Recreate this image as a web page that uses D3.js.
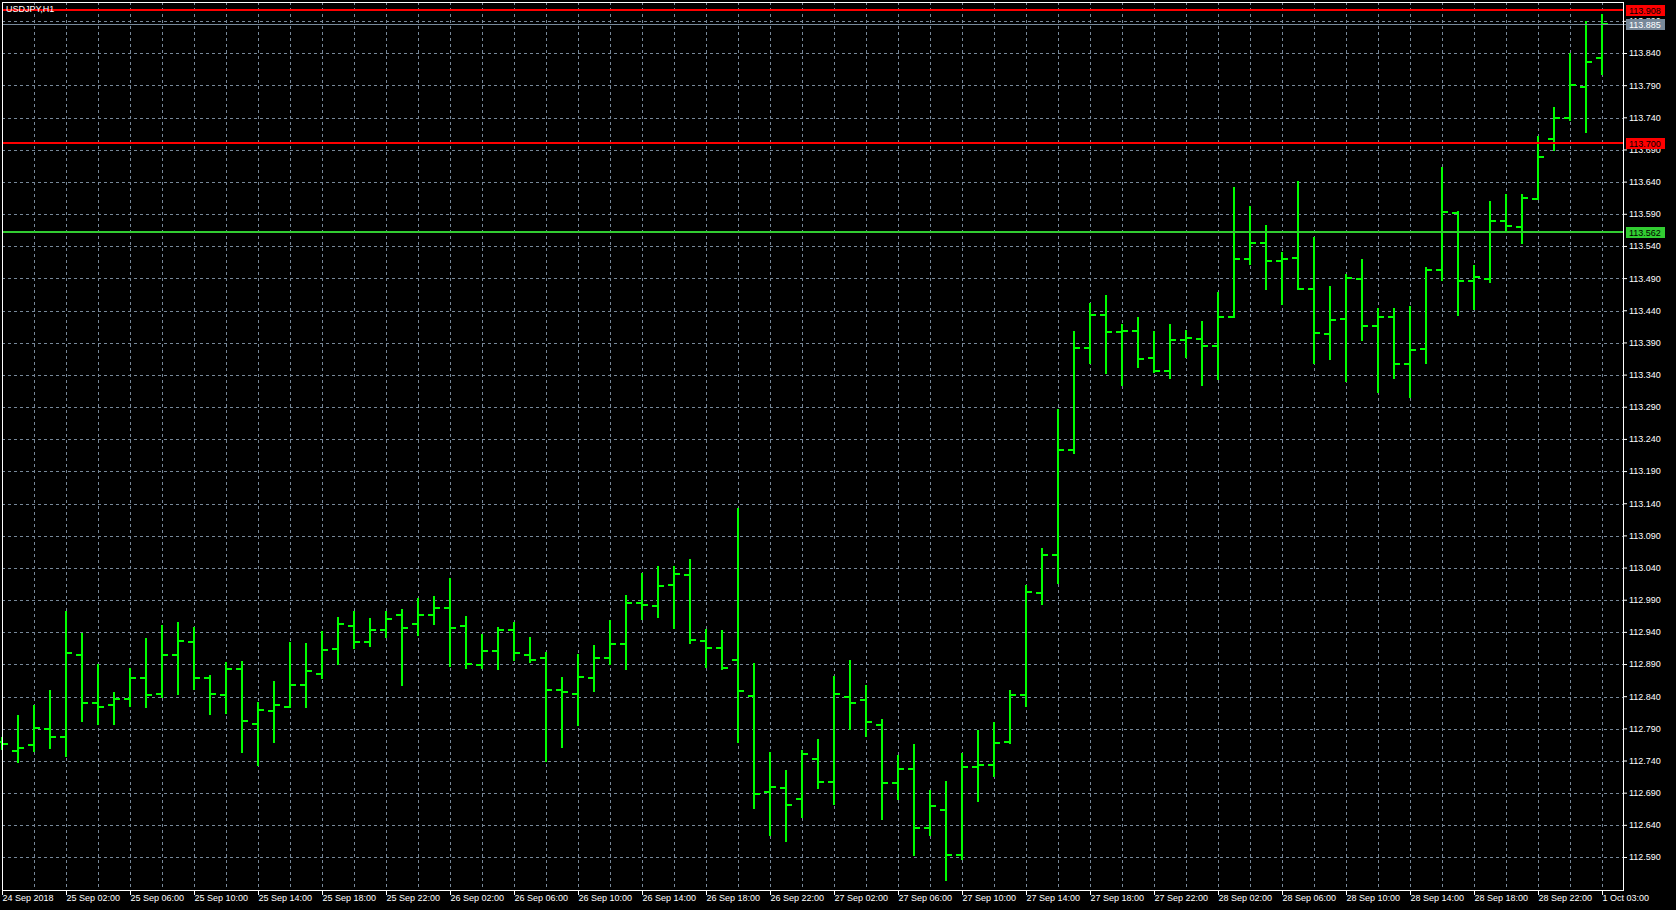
<!DOCTYPE html>
<html>
<head>
<meta charset="utf-8">
<script src="https://cdn.jsdelivr.net/npm/d3@7"></script>
<style>
html,body{margin:0;padding:0;background:#000;overflow:hidden;}
svg text{font-family:"Liberation Sans",Arial,sans-serif;}
</style>
</head>
<body>
<script>
// ---- data (USDJPY, H1), bar index 0 = 24 Sep 2018 22:00 ----
const opens = [112.770,112.755,112.764,112.789,112.777,112.905,112.830,112.827,112.836,112.868,
112.844,112.905,112.925,112.869,112.843,112.883,112.797,112.818,112.824,112.858,
112.875,112.914,112.950,112.924,112.943,112.966,112.952,112.966,112.977,112.949,
112.889,112.911,112.943,112.905,112.900,112.850,112.844,112.869,112.900,112.921,
112.985,112.981,113.014,113.029,112.927,112.916,112.896,112.841,112.692,112.697,
112.681,112.743,112.707,112.840,112.834,112.795,112.706,112.727,112.635,112.663,
112.594,112.731,112.733,112.769,112.842,113.001,113.060,113.223,113.382,113.433,
113.406,113.408,113.366,113.346,113.394,113.396,113.385,113.430,113.520,113.545,
113.517,113.521,113.473,113.403,113.427,113.489,113.416,113.430,113.357,113.380,
113.503,113.591,113.486,113.489,113.580,113.570,113.614,113.707,113.740,113.788,
113.832];
const highs = [112.776,112.809,112.826,112.848,112.972,112.937,112.889,112.845,112.883,112.930,
112.950,112.955,112.947,112.872,112.892,112.894,112.830,112.862,112.923,112.922,
112.941,112.962,112.972,112.961,112.972,112.975,112.992,112.995,113.023,112.964,
112.936,112.947,112.955,112.931,112.908,112.869,112.905,112.919,112.958,112.997,
113.030,113.041,113.041,113.052,112.943,112.942,113.131,112.891,112.752,112.724,
112.755,112.772,112.870,112.895,112.857,112.803,112.747,112.764,112.693,112.707,
112.750,112.786,112.799,112.849,113.012,113.069,113.286,113.406,113.451,113.462,
113.417,113.429,113.407,113.417,113.409,113.423,113.468,113.630,113.601,113.572,
113.530,113.640,113.553,113.477,113.495,113.519,113.443,113.443,113.445,113.506,
113.661,113.594,113.510,113.609,113.619,113.619,113.710,113.755,113.839,113.889,
113.900];
const lows = [112.758,112.738,112.756,112.760,112.747,112.802,112.797,112.797,112.825,112.824,
112.839,112.844,112.852,112.813,112.815,112.753,112.733,112.769,112.823,112.823,
112.868,112.891,112.916,112.919,112.932,112.858,112.936,112.952,112.888,112.885,
112.885,112.883,112.896,112.893,112.740,112.761,112.796,112.849,112.891,112.882,
112.961,112.964,112.947,112.923,112.886,112.883,112.770,112.667,112.625,112.616,
112.653,112.697,112.673,112.790,112.779,112.650,112.681,112.594,112.625,112.554,
112.588,112.678,112.717,112.767,112.826,112.984,113.017,113.218,113.358,113.343,
113.325,113.352,113.344,113.335,113.368,113.324,113.333,113.430,113.512,113.473,
113.451,113.473,113.358,113.364,113.330,113.394,113.313,113.335,113.305,113.358,
113.487,113.433,113.442,113.484,113.564,113.545,113.614,113.689,113.737,113.718,
113.808];
const closes = [112.766,112.760,112.791,112.777,112.907,112.830,112.824,112.836,112.868,112.843,
112.904,112.927,112.869,112.844,112.883,112.802,112.819,112.827,112.858,112.879,
112.913,112.952,112.925,112.943,112.961,112.946,112.966,112.977,112.946,112.891,
112.911,112.944,112.907,112.897,112.850,112.847,112.871,112.900,112.922,112.985,
112.982,113.012,113.031,112.928,112.916,112.885,112.849,112.689,112.700,112.672,
112.751,112.707,112.844,112.830,112.801,112.705,112.727,112.635,112.669,112.593,
112.730,112.734,112.767,112.842,113.002,113.060,113.223,113.382,113.433,113.407,
113.409,113.364,113.346,113.394,113.397,113.385,113.430,113.520,113.545,113.517,
113.520,113.473,113.405,113.425,113.490,113.416,113.430,113.357,113.378,113.503,
113.593,113.486,113.492,113.580,113.571,113.615,113.678,113.740,113.791,113.827,
113.885];

const timeTickIndex = [0,4,8,12,16,20,24,28,32,36,40,44,48,52,56,60,64,68,72,76,80,84,88,92,96,100];
const timeTickLabels = ["24 Sep 2018","25 Sep 02:00","25 Sep 06:00","25 Sep 10:00","25 Sep 14:00",
"25 Sep 18:00","25 Sep 22:00","26 Sep 02:00","26 Sep 06:00","26 Sep 10:00","26 Sep 14:00",
"26 Sep 18:00","26 Sep 22:00","27 Sep 02:00","27 Sep 06:00","27 Sep 10:00","27 Sep 14:00",
"27 Sep 18:00","27 Sep 22:00","28 Sep 02:00","28 Sep 06:00","28 Sep 10:00","28 Sep 14:00",
"28 Sep 18:00","28 Sep 22:00","1 Oct 03:00"];
const priceTicks = [112.590,112.640,112.690,112.740,112.790,112.840,112.890,112.940,112.990,113.040,
113.090,113.140,113.190,113.240,113.290,113.340,113.390,113.440,113.490,113.540,113.590,113.640,
113.690,113.740,113.790,113.840,113.890];
const levelPrices = [113.908, 113.700, 113.562];
const bidPrice = 113.885;
const symbolTitle = "USDJPY,H1";

// ---- layout ----
const W = 1676, H = 910;
const pLeft = 2, pTop = 2, pRight = 1623, pBottom = 890;

const svg = d3.select("body").append("svg").attr("width", W).attr("height", H);
svg.append("rect").attr("width", W).attr("height", H).attr("fill", "#000");

const x = d3.scaleLinear().domain([0, 100]).range([2, 1602]);
const y = d3.scaleLinear().domain([112.590, 113.840]).range([857.3, 53.3]);
const yr = p => Math.round(y(p));

const gridColor = "#778899";
// grid
const grid = svg.append("g");
const vIdx = d3.range(2, 101, 2);
grid.selectAll("line.v").data(vIdx).enter().append("line")
  .attr("x1", d => x(d) + 0.5).attr("x2", d => x(d) + 0.5)
  .attr("y1", pTop).attr("y2", pBottom)
  .attr("stroke", gridColor).attr("stroke-width", 1).attr("stroke-dasharray", "3,3");
grid.selectAll("line.h").data(priceTicks).enter().append("line")
  .attr("x1", pLeft).attr("x2", pRight)
  .attr("y1", d => yr(d) + 0.5).attr("y2", d => yr(d) + 0.5)
  .attr("stroke", gridColor).attr("stroke-width", 1).attr("stroke-dasharray", "3,3");

// bars
const bars = d3.range(opens.length).map(i => ({i, o: opens[i], h: highs[i], l: lows[i], c: closes[i]}));
const bg = svg.append("g").attr("stroke", "#00ff00").attr("stroke-width", 2);
const bar = bg.selectAll("g").data(bars).enter().append("g");
bar.append("line").attr("x1", d => x(d.i)).attr("x2", d => x(d.i))
  .attr("y1", d => yr(d.h) - 1).attr("y2", d => yr(d.l) + 1);
bar.append("line").attr("x1", d => x(d.i) - 6).attr("x2", d => x(d.i))
  .attr("y1", d => yr(d.o)).attr("y2", d => yr(d.o));
bar.append("line").attr("x1", d => x(d.i)).attr("x2", d => x(d.i) + 6)
  .attr("y1", d => yr(d.c)).attr("y2", d => yr(d.c));

// horizontal level lines
const levelColors = ["#ff0000", "#ff0000", "#32cd32"];
svg.append("line").attr("x1", pLeft).attr("x2", pRight + 3)
  .attr("y1", yr(bidPrice) + 0.5).attr("y2", yr(bidPrice) + 0.5)
  .attr("stroke", gridColor).attr("stroke-width", 1);
svg.selectAll("line.level").data(levelPrices).enter().append("line")
  .attr("x1", pLeft).attr("x2", pRight)
  .attr("y1", d => yr(d)).attr("y2", d => yr(d))
  .attr("stroke", (d, i) => levelColors[i]).attr("stroke-width", 2);

// title
svg.append("text").attr("x", 6).attr("y", 11.5).attr("fill", "#fff")
  .attr("font-size", "9px").text(symbolTitle);

// frame
svg.append("rect").attr("x", pLeft + 0.5).attr("y", pTop + 0.5)
  .attr("width", pRight - pLeft).attr("height", pBottom - pTop)
  .attr("fill", "none").attr("stroke", "#fff").attr("stroke-width", 1);

// y axis (right)
const yAxis = d3.axisRight(d3.scaleLinear().domain(y.domain()).range(y.range().map(Math.round)))
  .tickValues(priceTicks).tickSize(4).tickPadding(2).tickFormat(d3.format(".3f"));
const ya = svg.append("g").attr("transform", `translate(${pRight},0)`).call(yAxis);
ya.select(".domain").remove();
ya.selectAll("line").attr("stroke", "#fff");
ya.selectAll("text").attr("fill", "#fff").attr("font-size", "9px").attr("font-family", "Liberation Sans, Arial, sans-serif");

// x axis (bottom)
const xAxis = d3.axisBottom(x).tickValues(timeTickIndex).tickSize(5).tickPadding(0)
  .tickFormat((d, i) => timeTickLabels[i]);
const xa = svg.append("g").attr("transform", `translate(0,${pBottom})`).call(xAxis);
xa.select(".domain").remove();
xa.selectAll("line").attr("stroke", "#fff");
xa.selectAll("text").attr("fill", "#fff").attr("font-size", "9px").attr("text-anchor", "start")
  .attr("dx", 0).attr("font-family", "Liberation Sans, Arial, sans-serif");

// price tags on the right axis
const tags = [
  {p: levelPrices[0], bg: "#ff0000", fg: "#000"},
  {p: bidPrice, bg: "#778899", fg: "#fff"},
  {p: levelPrices[1], bg: "#ff0000", fg: "#000"},
  {p: levelPrices[2], bg: "#32cd32", fg: "#000"}
];
const tg = svg.selectAll("g.tag").data(tags).enter().append("g");
tg.append("rect").attr("x", pRight + 3).attr("y", d => yr(d.p) - 5)
  .attr("width", 39).attr("height", 11).attr("fill", d => d.bg);
tg.append("text").attr("x", pRight + 6).attr("y", d => yr(d.p) + 3.5)
  .attr("fill", d => d.fg).attr("font-size", "9px").text(d => d.p.toFixed(3));
</script>
</body>
</html>
